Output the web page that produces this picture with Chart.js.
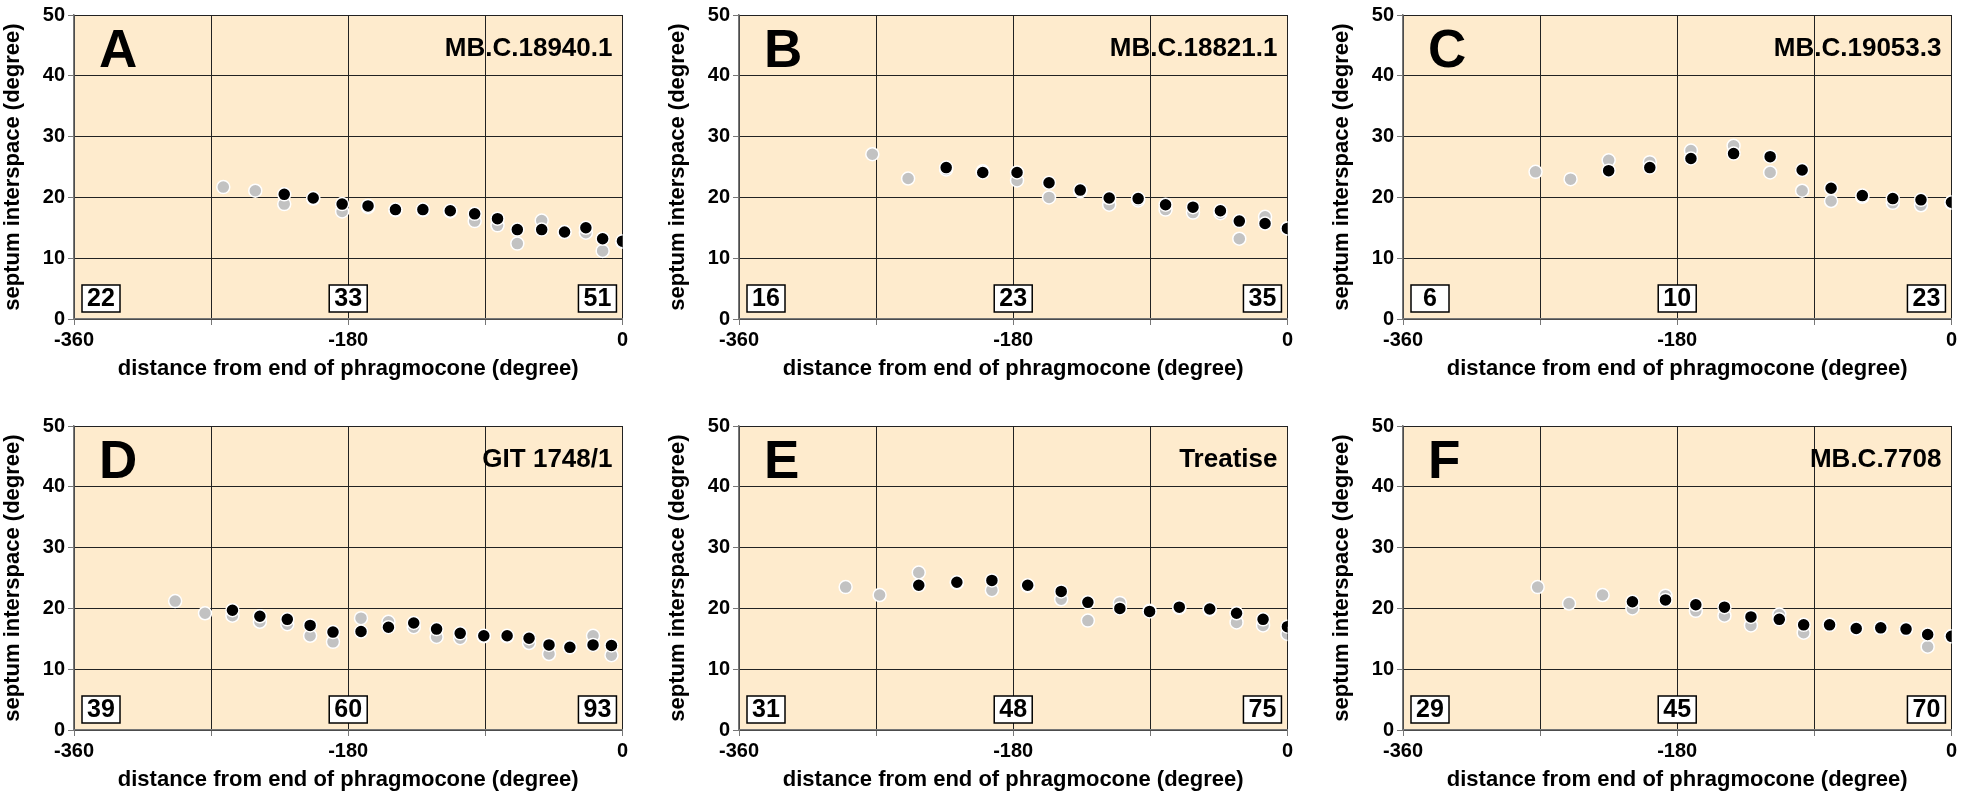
<!DOCTYPE html>
<html>
<head>
<meta charset="utf-8">
<script src="https://cdn.jsdelivr.net/npm/chart.js@4/dist/chart.umd.min.js"></script>
<style>
  html, body { margin: 0; padding: 0; background: #fff; overflow: hidden; }
  body { width: 1961px; height: 795px; position: relative; }
  .panel { position: absolute; width: 631px; height: 395px; }
</style>
</head>
<body>
<div class="panel" id="pA" style="left:0px;top:0px"><canvas></canvas></div>
<div class="panel" id="pB" style="left:665px;top:0px"><canvas></canvas></div>
<div class="panel" id="pC" style="left:1329px;top:0px"><canvas></canvas></div>
<div class="panel" id="pD" style="left:0px;top:411px"><canvas></canvas></div>
<div class="panel" id="pE" style="left:665px;top:411px"><canvas></canvas></div>
<div class="panel" id="pF" style="left:1329px;top:411px"><canvas></canvas></div>
<script>
// distance from end of phragmocone (degree) and septum interspace (degree)
const xA = [-262, -241, -222, -203, -184, -167, -149, -131, -113, -97, -82, -69, -53, -38, -24, -13, 0];
const grayA = [21.7, 21.1, 18.9, 19.8, 17.7, 18.4, 17.9, 17.9, 17.7, 16.1, 15.4, 12.4, 16.2, 14.3, 14.2, 11.2, 12.7];
const blackA = [null, null, 20.5, 19.9, 18.9, 18.6, 18.0, 18.0, 17.8, 17.3, 16.5, 14.7, 14.7, 14.3, 15.0, 13.2, 12.8];

const xB = [-272.5, -249, -224, -200, -177.5, -156.5, -136, -117, -98, -80, -62, -44, -31.6, -14.7, 0];
const grayB = [27.1, 23.1, 24.6, 24.3, 22.8, 20.0, 21.0, 18.8, 19.5, 18.0, 17.5, 17.4, 13.2, 16.8, 14.9];
const blackB = [null, null, 24.9, 24.1, 24.1, 22.4, 21.2, 19.9, 19.8, 18.8, 18.4, 17.8, 16.1, 15.7, 14.9];

const xC = [-273, -250, -225, -198, -171, -143, -119, -98, -79, -58.5, -38.5, -20, 0];
const grayC = [24.2, 23.0, 26.1, 25.8, 27.7, 28.5, 24.1, 21.1, 19.4, 20.1, 19.1, 18.7, 19.1];
const blackC = [null, null, 24.4, 24.9, 26.4, 27.2, 26.7, 24.5, 21.5, 20.3, 19.8, 19.6, 19.2];

const xD = [-293.6, -274, -256, -238, -220, -205, -190, -171.6, -153.6, -137, -122, -106.5, -91, -75.7, -61.3, -48.2, -34.5, -19.3, -7.2];
const grayD = [21.2, 19.2, 18.8, 17.8, 17.4, 15.5, 14.5, 18.4, 17.8, 16.9, 15.3, 15.1, 15.4, 15.4, 14.3, 12.5, 13.6, 15.5, 12.3];
const blackD = [null, null, 19.7, 18.7, 18.2, 17.2, 16.1, 16.2, 16.9, 17.6, 16.6, 15.9, 15.5, 15.5, 15.1, 14.0, 13.6, 14.0, 13.9];

const xE = [-290, -267.7, -242, -217, -194, -170.5, -148.5, -131, -110, -90.5, -71, -51, -33.4, -16, 0];
const grayE = [23.5, 22.2, 25.9, 24.2, 23.0, 23.7, 21.5, 18.0, 20.9, 19.6, 20.1, 19.8, 17.7, 17.2, 15.8];
const blackE = [null, null, 23.8, 24.3, 24.6, 23.8, 22.8, 21.0, 20.0, 19.5, 20.2, 19.9, 19.2, 18.2, 17.0];

const xF = [-271.6, -251, -229, -209.4, -187.7, -167.8, -149, -131.6, -113, -97, -80, -62.5, -46.4, -29.8, -15.6, 0];
const grayF = [23.5, 20.8, 22.2, 20.0, 22.1, 19.6, 18.8, 17.2, 19.0, 16.0, 17.3, 16.7, 16.8, 16.6, 13.7, 15.4];
const blackF = [null, null, null, 21.1, 21.4, 20.6, 20.2, 18.6, 18.2, 17.3, 17.3, 16.7, 16.8, 16.6, 15.7, 15.4];

const letters = ['A', 'B', 'C', 'D', 'E', 'F'];
const specimens = ['MB.C.18940.1', 'MB.C.18821.1', 'MB.C.19053.3', 'GIT 1748/1', 'Treatise', 'MB.C.7708'];
const counts = [[22, 33, 51], [16, 23, 35], [6, 10, 23], [39, 60, 93], [31, 48, 75], [29, 45, 70]];
const xTicks = [-360, -180, 0];

const FONT = '"Liberation Sans", Arial, sans-serif';

const decor = {
    id: 'decor',
    beforeDraw(chart) {
        const a = chart.chartArea, ctx = chart.ctx;
        ctx.save();
        ctx.fillStyle = '#FEEBCD';
        ctx.fillRect(a.left, a.top, a.right - a.left, a.bottom - a.top);
        ctx.restore();
    },
    afterDatasetsDraw(chart, args, opts) {
        const a = chart.chartArea, ctx = chart.ctx;
        const xs = chart.scales.x;
        ctx.save();
        ctx.fillStyle = '#000';
        ctx.textBaseline = 'alphabetic';
        ctx.font = 'bold 53px ' + FONT;
        ctx.textAlign = 'left';
        ctx.fillText(opts.letter, a.left + 25, a.top + 52);
        ctx.font = 'bold 26px ' + FONT;
        ctx.textAlign = 'right';
        ctx.fillText(opts.specimen, a.right - 10, a.top + 41);

        // count boxes at start, middle and end of the last whorl
        const w = 38, h = 27;
        const centers = [a.left + 8 + w / 2, xs.getPixelForValue(-180), a.right - 6 - w / 2];
        ctx.font = 'bold 25px ' + FONT;
        ctx.textAlign = 'center';
        ctx.textBaseline = 'middle';
        opts.counts.forEach((n, i) => {
            const cx = centers[i], top = a.bottom - 34;
            ctx.fillStyle = '#fff';
            ctx.fillRect(cx - w / 2, top, w, h);
            ctx.strokeStyle = '#000';
            ctx.lineWidth = 1.5;
            ctx.strokeRect(cx - w / 2, top, w, h);
            ctx.fillStyle = '#000';
            ctx.fillText(String(n), cx, top + h / 2 + 1);
        });
        ctx.restore();
    }
};

function makePanel(id, idx, xs, gray, black) {
    const canvas = document.querySelector('#' + id + ' canvas');
    new Chart(canvas, {
        type: 'scatter',
        data: {
            datasets: [{
                label: 'black',
                data: xs.map((x, i) => ({x: x, y: black[i]})),
                backgroundColor: '#000',
                borderColor: '#fff',
                borderWidth: 1.5,
                pointRadius: 6.5,
                order: 1
            }, {
                label: 'gray',
                data: xs.map((x, i) => ({x: x, y: gray[i]})),
                backgroundColor: '#C2C2C2',
                borderColor: '#fff',
                borderWidth: 1.5,
                pointRadius: 6.5,
                order: 2
            }]
        },
        options: {
            responsive: true,
            maintainAspectRatio: false,
            animation: false,
            layout: {padding: {top: 13, right: 8, left: 0, bottom: 0}},
            plugins: {
                legend: {display: false},
                tooltip: {enabled: false},
                decor: {letter: letters[idx], specimen: specimens[idx], counts: counts[idx]}
            },
            scales: {
                x: {
                    type: 'linear', min: -360, max: 0,
                    afterFit: s => { s.height = 76; },
                    ticks: {
                        stepSize: 90, autoSkip: false, maxRotation: 0, padding: 3,
                        color: '#000', font: {family: FONT, size: 20, weight: 'bold'},
                        callback: v => xTicks.includes(v) ? String(v) : ''
                    },
                    grid: {color: '#222', lineWidth: 1, tickLength: 6, tickColor: '#777'},
                    border: {color: '#777', width: 1.5},
                    title: {
                        display: true, text: 'distance from end of phragmocone (degree)',
                        color: '#000', font: {family: FONT, size: 22, weight: 'bold'},
                        padding: {top: 0, bottom: 13}
                    }
                },
                y: {
                    min: 0, max: 50,
                    afterFit: s => { s.width = 74; },
                    ticks: {
                        stepSize: 10, padding: 3,
                        color: '#000', font: {family: FONT, size: 20, weight: 'bold'}
                    },
                    grid: {color: '#222', lineWidth: 1, tickLength: 6, tickColor: '#777'},
                    border: {color: '#777', width: 1.5},
                    title: {
                        display: true, text: 'septum interspace (degree)',
                        color: '#000', font: {family: FONT, size: 22, weight: 'bold'},
                        padding: {top: 0, bottom: 0}
                    }
                }
            }
        },
        plugins: [decor]
    });
}

makePanel('pA', 0, xA, grayA, blackA);
makePanel('pB', 1, xB, grayB, blackB);
makePanel('pC', 2, xC, grayC, blackC);
makePanel('pD', 3, xD, grayD, blackD);
makePanel('pE', 4, xE, grayE, blackE);
makePanel('pF', 5, xF, grayF, blackF);
</script>
</body>
</html>
